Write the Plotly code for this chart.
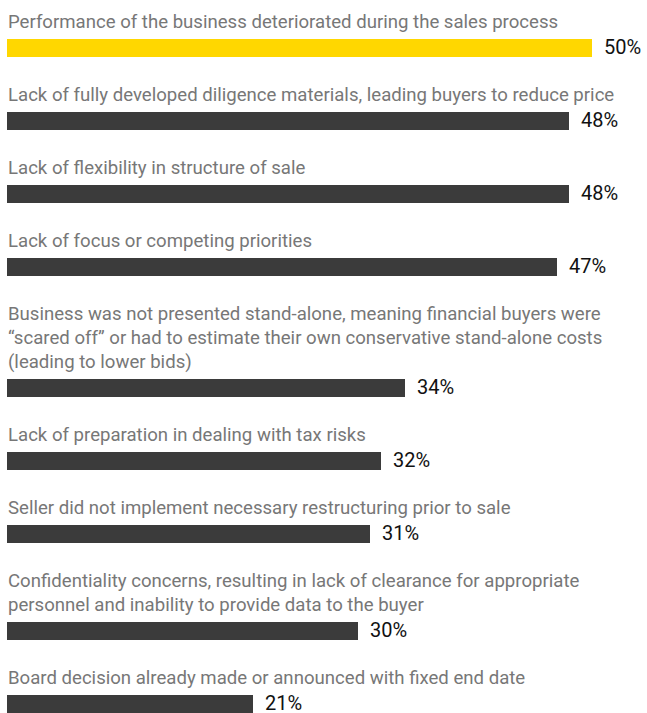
import plotly.graph_objects as go

# Survey responses: reasons that reduced value during the sale
categories = [
    "Performance of the business deteriorated during the sales process",
    "Lack of fully developed diligence materials, leading buyers to reduce price",
    "Lack of flexibility in structure of sale",
    "Lack of focus or competing priorities",
    "Business was not presented stand-alone, meaning financial buyers were<br>"
    "\u201cscared off\u201d or had to estimate their own conservative stand-alone costs<br>"
    "(leading to lower bids)",
    "Lack of preparation in dealing with tax risks",
    "Seller did not implement necessary restructuring prior to sale",
    "Confidentiality concerns, resulting in lack of clearance for appropriate<br>"
    "personnel and inability to provide data to the buyer",
    "Board decision already made or announced with fixed end date",
]
values = [50, 48, 48, 47, 34, 32, 31, 30, 21]

YELLOW = "#FFD700"
DARK = "#3b3b3b"
LABEL_GREY = "#777777"
FONT = "Roboto"

# Vertical layout in pixel-like units: each row has a base pitch and grows
# with every extra line of its caption.
ROW_PITCH = 73
LINE_H = 24
FIRST_BAR = 48
CAPTION_GAP = 26.5

centers = []
pos = FIRST_BAR
for i, lab in enumerate(categories):
    extra = lab.count("<br>")
    if i > 0:
        pos += ROW_PITCH + extra * LINE_H
    centers.append(pos)

colors = [YELLOW] + [DARK] * (len(values) - 1)

fig = go.Figure(
    go.Bar(
        x=values,
        y=centers,
        orientation="h",
        width=18,
        marker=dict(color=colors, line=dict(width=0)),
        hoverinfo="skip",
    )
)

annotations = []
for lab, yc, v in zip(categories, centers, values):
    lines = lab.split("<br>")
    n = len(lines)
    for k, line in enumerate(lines):
        annotations.append(dict(
            x=0, y=yc - CAPTION_GAP - (n - 1 - k) * LINE_H,
            xref="x", yref="y", text=line, showarrow=False,
            xanchor="left", yanchor="middle", borderpad=0,
            font=dict(family=FONT, size=18.6, color=LABEL_GREY),
        ))
    annotations.append(dict(
        x=v, y=yc - 1.5, xref="x", yref="y", text=f"{v}%", showarrow=False,
        xanchor="left", yanchor="middle", xshift=11, borderpad=0,
        font=dict(family=FONT, size=20, color="#111111"),
    ))

PX_PER_UNIT = 11.7
fig.update_layout(
    width=647, height=713,
    margin=dict(l=0, r=0, t=0, b=0),
    paper_bgcolor="white", plot_bgcolor="white",
    showlegend=False,
    xaxis=dict(range=[-7 / PX_PER_UNIT, 640 / PX_PER_UNIT], visible=False, fixedrange=True),
    yaxis=dict(range=[713, 0], visible=False, fixedrange=True),
    annotations=annotations,
    bargap=0,
)

fig.write_html("out.html", config={"displayModeBar": False})
